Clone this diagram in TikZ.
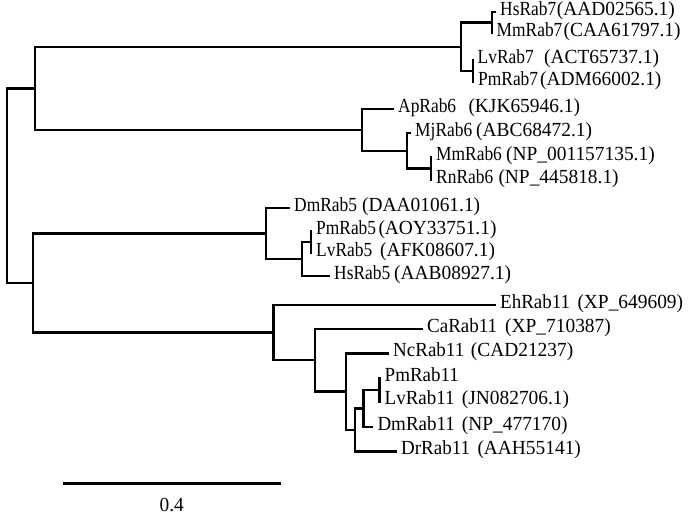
\documentclass[tikz,border=0pt]{standalone}
\usepackage{fontspec}
\setmainfont{Liberation Serif}
\newfontfamily\namefont[FakeStretch=0.87]{Liberation Serif}
\newfontfamily\namefontb[FakeStretch=0.95]{Liberation Serif}
\newfontfamily\accfont[FakeStretch=0.97]{Liberation Serif}
\begin{document}
\begin{tikzpicture}[x=1pt,y=-1pt,
  br/.style={line width=2.4pt, line join=miter},
  leaf/.style={anchor=west, inner xsep=4pt, inner ysep=0pt, text height=0.66em, text depth=0pt, font=\fontsize{20}{22}\selectfont\namefont},
  leafb/.style={leaf, font=\fontsize{20}{22}\selectfont\namefontb},
  acc/.style={anchor=west, inner sep=0pt, text height=0.66em, text depth=0pt, font=\fontsize{20}{22}\selectfont\accfont}]
\useasboundingbox (0,0) rectangle (688,515);
% internal nodes
\coordinate (root) at (7,186);
\coordinate (nA) at (35,88.5);
\coordinate (nB) at (33,283);
\coordinate (r7) at (460.7,47);
\coordinate (r6) at (361.7,130);
\coordinate (hm7) at (492,22.5);
\coordinate (lp7) at (473,71);
\coordinate (mj) at (406.7,151);
\coordinate (mr) at (430.7,168.5);
\coordinate (r5) at (266,233.5);
\coordinate (plh) at (302,259);
\coordinate (pl) at (311,242);
\coordinate (r11) at (273.3,332.5);
\coordinate (c11) at (315,360);
\coordinate (d11) at (346,391.5);
\coordinate (e11) at (355,430);
\coordinate (f11) at (363.3,408.5);
\coordinate (g11) at (379.3,390);
% leaves
\node[leaf] (hs7) at (496,12) {HsRab7};
\node[leaf] (mm7) at (492.5,33) {MmRab7};
\node[leaf] (lv7) at (473.5,60) {LvRab7};
\node[leaf] (pm7) at (474,82) {PmRab7};
\node[leaf] (ap6) at (394,109) {ApRab6};
\node[leaf] (mj6) at (411,133) {MjRab6};
\node[leaf] (mm6) at (432,157) {MmRab6};
\node[leaf] (rn6) at (432,180) {RnRab6};
\node[leaf] (dm5) at (290,208) {DmRab5};
\node[leaf] (pm5) at (312,231) {PmRab5};
\node[leaf] (lv5) at (312,253) {LvRab5};
\node[leaf] (hs5) at (330,276) {HsRab5};
\node[leafb] (eh11) at (496,305) {EhRab11};
\node[leafb] (ca11) at (423,329) {CaRab11};
\node[leafb] (nc11) at (389,353.5) {NcRab11};
\node[leafb] (pm11) at (380.5,378.5) {PmRab11};
\node[leafb] (lv11) at (380.5,401.5) {LvRab11};
\node[leafb] (dm11) at (373.3,427) {DmRab11};
\node[leafb] (dr11) at (397,451.5) {DrRab11};
% accessions
\node[acc] (ahs7) at (556.7,12) {(AAD02565.1)};
\node[acc] (amm7) at (563.5,33) {(CAA61797.1)};
\node[acc] (alv7) at (544,60) {(ACT65737.1)};
\node[acc] (apm7) at (540,82) {(ADM66002.1)};
\node[acc] (aap6) at (468.3,109) {(KJK65946.1)};
\node[acc] (amj6) at (476,133) {(ABC68472.1)};
\node[acc] (amm6) at (506,157) {(NP\_001157135.1)};
\node[acc] (arn6) at (498.3,180) {(NP\_445818.1)};
\node[acc] (adm5) at (362,208) {(DAA01061.1)};
\node[acc] (apm5) at (378.3,231) {(AOY33751.1)};
\node[acc] (alv5) at (380,253) {(AFK08607.1)};
\node[acc] (ahs5) at (394,276) {(AAB08927.1)};
\node[acc] (aeh11) at (577.3,305) {(XP\_649609)};
\node[acc] (aca11) at (505,329) {(XP\_710387)};
\node[acc] (anc11) at (470.7,353.5) {(CAD21237)};
\node[acc] (alv11) at (461.7,401.5) {(JN082706.1)};
\node[acc] (adm11) at (461.7,427) {(NP\_477170)};
\node[acc] (adr11) at (477.3,451.5) {(AAH55141)};
% branches
\draw[br] (root) |- (nA);
\draw[br] (root) |- (nB);
\draw[br] (nA) |- (r7);
\draw[br] (nA) |- (r6);
\draw[br] (r7) |- (hm7);
\draw[br] (r7) |- (lp7);
\draw[br] (hm7) |- (hs7);
\draw[br] (hm7) |- (mm7);
\draw[br] (lp7) |- (lv7);
\draw[br] (lp7) |- (pm7);
\draw[br] (r6) |- (ap6);
\draw[br] (r6) |- (mj);
\draw[br] (mj) |- (mj6);
\draw[br] (mj) |- (mr);
\draw[br] (mr) |- (mm6);
\draw[br] (mr) |- (rn6);
\draw[br] (nB) |- (r5);
\draw[br] (nB) |- (r11);
\draw[br] (r5) |- (dm5);
\draw[br] (r5) |- (plh);
\draw[br] (plh) |- (pl);
\draw[br] (plh) |- (hs5);
\draw[br] (pl) |- (pm5);
\draw[br] (pl) |- (lv5);
\draw[br] (r11) |- (eh11);
\draw[br] (r11) |- (c11);
\draw[br] (c11) |- (ca11);
\draw[br] (c11) |- (d11);
\draw[br] (d11) |- (nc11);
\draw[br] (d11) |- (e11);
\draw[br] (e11) |- (f11);
\draw[br] (e11) |- (dr11);
\draw[br] (f11) |- (g11);
\draw[br] (f11) |- (dm11);
\draw[br] (g11) |- (pm11);
\draw[br] (g11) |- (lv11);
% scale bar
\coordinate (sb1) at (62.7,483.3);
\coordinate (sb2) at (280.7,483.3);
\draw[br] (sb1) -- (sb2);
\node[font=\fontsize{20}{22}\selectfont\accfont, inner sep=0pt, anchor=base] (sbl) at (171.7,511) {0.4};
\end{tikzpicture}
\end{document}
